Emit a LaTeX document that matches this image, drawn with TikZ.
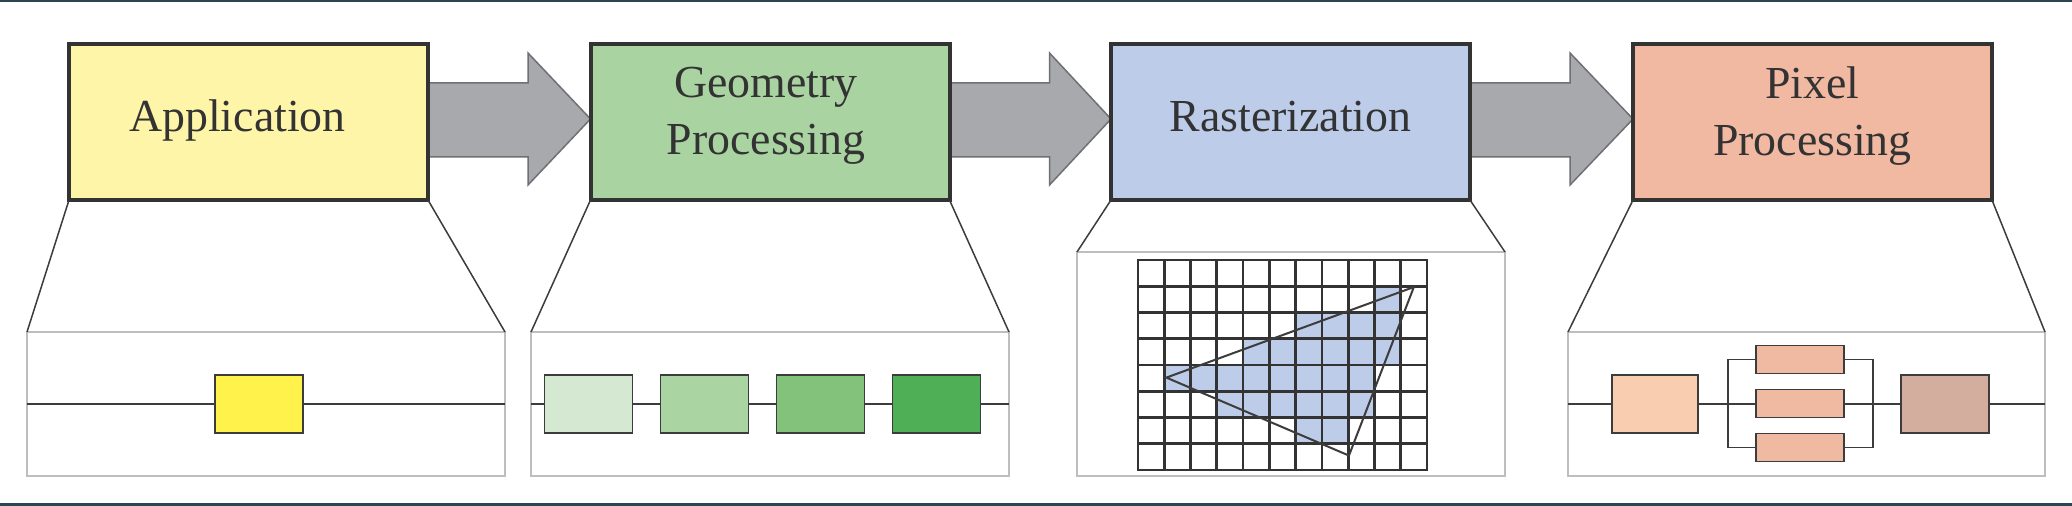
\documentclass[tikz,border=0pt]{standalone}
\usepackage{fontspec}
\setmainfont{Liberation Serif}
\usetikzlibrary{calc}
\pgfdeclarelayer{bg}
\pgfsetlayers{bg,main}
\definecolor{framecol}{HTML}{2C4650}
\definecolor{boxline}{HTML}{333333}
\definecolor{txt}{HTML}{333333}
\definecolor{appfill}{HTML}{FFF5A8}
\definecolor{geofill}{HTML}{A9D4A2}
\definecolor{rasfill}{HTML}{BDCCE8}
\definecolor{pixfill}{HTML}{F1B9A2}
\definecolor{yelunit}{HTML}{FFF24B}
\definecolor{gA}{HTML}{D5E8D1}
\definecolor{gB}{HTML}{AAD5A3}
\definecolor{gC}{HTML}{82C27B}
\definecolor{gD}{HTML}{4FAF56}
\definecolor{pA}{HTML}{F8CDB0}
\definecolor{pB}{HTML}{EFB9A2}
\definecolor{pC}{HTML}{D3AD9D}
\definecolor{arrowfill}{HTML}{A7A9AC}
\definecolor{arrowline}{HTML}{6F7073}
\definecolor{panelgray}{HTML}{BEBEBE}
\definecolor{linkgray}{HTML}{3C3C3C}
\begin{document}
\begin{tikzpicture}[x=1bp,y=-1bp,
  stage/.style={draw=boxline, line width=4bp, minimum width=359bp, minimum height=156bp, inner sep=0pt, outer sep=0pt},
  stagetext/.style={font=\fontsize{46}{57}\selectfont, text=txt, align=center, inner sep=0pt},
  panel/.style={draw=panelgray, line width=2bp, fill=white, inner sep=0pt, outer sep=0pt},
  unit/.style={draw=linkgray, line width=1.8bp, inner sep=0pt, outer sep=0pt, minimum width=88bp, minimum height=58bp},
  smallunit/.style={unit, minimum height=28bp},
  link/.style={draw=linkgray, line width=1.5bp},
  blockarrow/.style={fill=arrowfill, draw=arrowline, line width=1.5bp, line join=miter},
  gridline/.style={draw=boxline, line width=2.8bp, line cap=rect},
  triline/.style={draw=linkgray, line width=2bp, line join=miter}
]
\useasboundingbox (0,0) rectangle (2072,506);
\begin{pgfonlayer}{bg}
  \fill[white] (0,0) rectangle (2072,506);
\end{pgfonlayer}
\fill[framecol] (0,0) rectangle (2072,2.5);
\fill[framecol] (0,503) rectangle (2072,506);

% stage boxes
\node[stage, fill=appfill] (app) at (248.5,122) {};
\node[stage, fill=geofill] (geo) at (770,122) {};
\node[stage, fill=rasfill] (ras) at (1290.5,122) {};
\node[stage, fill=pixfill] (pix) at (1812.5,122) {};

\node[stagetext, anchor=base] (appt) at ($(app.center)+(-11,10)$) {Application};
\node[stagetext] (geot) at ($(geo.center)+(-4,-6)$) {Geometry\\Processing};
\node[stagetext, anchor=base] (rast) at ($(ras.center)+(0,10)$) {Rasterization};
\node[stagetext] (pixt) at ($(pix.center)+(0,-6)$) {Pixel\\Processing};

% block arrows
\begin{pgfonlayer}{bg}
\foreach \a/\b in {app/geo, geo/ras, ras/pix}{
  \draw[blockarrow] ($(\a.east)+(0,-39)$) -- ++(100,0) -- ++(0,-30)
    -- ($(\b.west)+(0,-3)$) -- ($(\a.east)+(100,63)$) -- ++(0,-28)
    -- ($(\a.east)+(0,35)$) -- cycle;
}
\end{pgfonlayer}

% panels
\node[panel, minimum width=478bp, minimum height=144bp] (p1) at (266,404) {};
\node[panel, minimum width=478bp, minimum height=144bp] (p2) at (770,404) {};
\node[panel, minimum width=428bp, minimum height=224bp] (p3) at (1291,364) {};
\node[panel, minimum width=477bp, minimum height=144bp] (p4) at (1806.5,404) {};

% zoom lines
\foreach \s/\p in {app/p1, geo/p2, ras/p3, pix/p4}{
  \draw[link] (\s.south west) -- (\p.north west);
  \draw[link] (\s.south east) -- (\p.north east);
}

% application panel
\draw[link] (p1.west) -- (p1.east);
\node[unit, fill=yelunit] (a1) at (259,404) {};

% geometry panel
\draw[link] (p2.west) -- (p2.east);
\node[unit, fill=gA] (g1) at (588.5,404) {};
\node[unit, fill=gB] (g2) at (704.5,404) {};
\node[unit, fill=gC] (g3) at (820.5,404) {};
\node[unit, fill=gD] (g4) at (936.5,404) {};

% rasterization panel
\begin{scope}[shift={(1138,260)}, x=26.27bp, y=-26.25bp]
  \foreach \c/\r in {9/1, 6/2,7/2,8/2,9/2, 4/3,5/3,6/3,7/3,8/3,9/3,
                     1/4,2/4,3/4,4/4,5/4,6/4,7/4,8/4, 3/5,4/5,5/5,6/5,7/5,8/5, 6/6,7/6}
    \fill[rasfill] (\c,\r) rectangle ++(1,1);
  \foreach \i in {0,...,11} \draw[gridline] (\i,0) -- (\i,8);
  \foreach \j in {0,...,8} \draw[gridline] (0,\j) -- (11,\j);
  \draw[triline] (1.08,4.48) -- (10.5,1.03) -- (8.03,7.45) -- cycle;
\end{scope}

% pixel panel
\draw[link] (p4.west) -- (p4.east);
\node[unit, fill=pA, minimum width=86bp] (x1) at (1655,404) {};
\node[smallunit, fill=pB] (m1) at (1800,359.5) {};
\node[smallunit, fill=pB] (m2) at (1800,403.5) {};
\node[smallunit, fill=pB] (m3) at (1800,447.5) {};
\node[unit, fill=pC] (x2) at (1945,404) {};
\draw[link] (m1.west) -- ++(-28,0) |- (m3.west);
\draw[link] (m1.east) -- ++(29,0) |- (m3.east);
\end{tikzpicture}
\end{document}
